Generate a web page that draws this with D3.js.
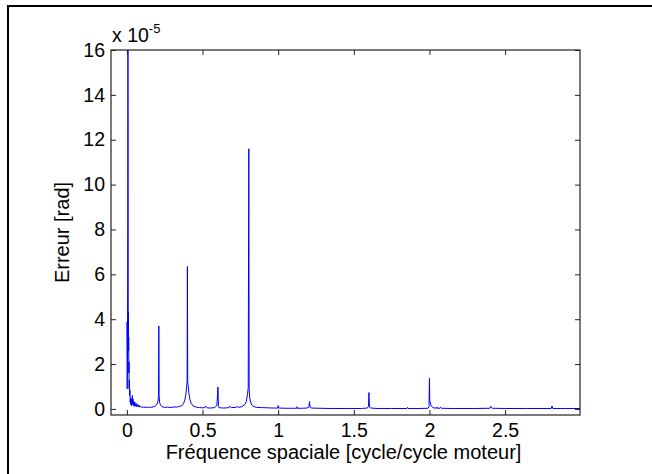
<!DOCTYPE html>
<html><head><meta charset="utf-8">
<script src="https://cdn.jsdelivr.net/npm/d3@7"></script>
<style>
html,body{margin:0;padding:0;background:#fff;}
svg{display:block;}
text{font-family:'Liberation Sans',Arial,Helvetica,sans-serif;fill:#000;}
</style></head>
<body>
<script>
// ---- data ----
const freq = [
 0, 0.002, 0.004, 0.006, 0.007, 0.008, 0.009, 0.010, 0.011, 0.012,
 0.013, 0.014, 0.015, 0.016, 0.018, 0.020, 0.022, 0.024, 0.026, 0.028,
 0.030, 0.032, 0.034, 0.036, 0.038, 0.040, 0.042, 0.045, 0.048, 0.052,
 0.056, 0.060, 0.065, 0.070, 0.075, 0.080, 0.085, 0.090, 0.10, 0.11,
 0.12, 0.135, 0.15, 0.165, 0.18, 0.192, 0.200, 0.206, 0.209, 0.211,
 0.213, 0.216, 0.222, 0.232, 0.25, 0.27, 0.29, 0.31, 0.33, 0.35,
 0.365, 0.375, 0.383, 0.390, 0.395, 0.398, 0.400, 0.402, 0.405, 0.41,
 0.416, 0.425, 0.44, 0.46, 0.48, 0.50, 0.515, 0.52, 0.53, 0.55,
 0.58, 0.595, 0.602, 0.605, 0.608, 0.615, 0.64, 0.66, 0.675, 0.68,
 0.69, 0.72, 0.73, 0.74, 0.76, 0.78, 0.79, 0.798, 0.802, 0.806,
 0.808, 0.812, 0.818, 0.826, 0.84, 0.86, 0.89, 0.93, 0.97, 0.998,
 1.0, 1.003, 1.05, 1.10, 1.123, 1.125, 1.128, 1.16, 1.19, 1.203,
 1.207, 1.211, 1.22, 1.27, 1.35, 1.45, 1.55, 1.59, 1.597, 1.600,
 1.603, 1.61, 1.66, 1.75, 1.851, 1.855, 1.859, 1.93, 1.99, 1.997,
 2.000, 2.002, 2.006, 2.01, 2.016, 2.022, 2.035, 2.048, 2.05, 2.052,
 2.068, 2.07, 2.075, 2.078, 2.15, 2.3, 2.4, 2.406, 2.409, 2.415,
 2.5, 2.65, 2.805, 2.81, 2.815, 2.9, 3.0];
const err = [
 3.87, 0.9, 2.2, 9, 17, 10, 3.4, 4.3, 2.6, 3.2,
 1.6, 2.1, 0.9, 1.3, 0.6, 0.85, 0.3, 0.5, 0.2, 0.45,
 0.15, 0.4, 0.2, 0.6, 0.25, 0.45, 0.15, 0.35, 0.12, 0.3,
 0.12, 0.25, 0.1, 0.22, 0.09, 0.17, 0.08, 0.12, 0.07, 0.08,
 0.07, 0.08, 0.07, 0.08, 0.1, 0.15, 0.22, 0.35, 0.6, 3.7,
 0.6, 0.3, 0.18, 0.1, 0.07, 0.08, 0.06, 0.09, 0.08, 0.12,
 0.15, 0.25, 0.4, 0.65, 1.0, 1.2, 6.35, 1.2, 1.05, 0.7,
 0.45, 0.25, 0.12, 0.08, 0.06, 0.05, 0.06, 0.13, 0.05, 0.04,
 0.06, 0.15, 0.98, 0.15, 0.07, 0.05, 0.04, 0.05, 0.06, 0.12,
 0.06, 0.07, 0.1, 0.07, 0.1, 0.2, 0.35, 0.7, 0.95, 11.6,
 0.9, 0.5, 0.3, 0.17, 0.1, 0.07, 0.06, 0.05, 0.04, 0.04,
 0.15, 0.04, 0.03, 0.03, 0.03, 0.1, 0.03, 0.03, 0.04, 0.08,
 0.33, 0.08, 0.04, 0.03, 0.02, 0.02, 0.02, 0.04, 0.12, 0.73,
 0.12, 0.04, 0.02, 0.02, 0.02, 0.07, 0.02, 0.02, 0.03, 0.1,
 1.36, 0.3, 0.3, 0.15, 0.12, 0.06, 0.04, 0.04, 0.08, 0.03,
 0.03, 0.07, 0.07, 0.03, 0.02, 0.02, 0.03, 0.12, 0.06, 0.03,
 0.02, 0.02, 0.02, 0.13, 0.02, 0.02, 0.02];
const xTicks = [0, 0.5, 1, 1.5, 2, 2.5];
const xTickLabels = ["0", "0.5", "1", "1.5", "2", "2.5"];
const yTicks = [0, 2, 4, 6, 8, 10, 12, 14, 16];
const yTickLabels = ["0", "2", "4", "6", "8", "10", "12", "14", "16"];
const xLabel = "Fréquence spaciale [cycle/cycle moteur]";
const yLabel = "Erreur [rad]";

// ---- layout ----
const W = 652, H = 474;
const L = 111, R = 580, T = 50, B = 415;
const svg = d3.select("body").append("svg").attr("width", W).attr("height", H);

// partial outer frame (top & left visible)
svg.append("path").attr("d", `M8,${H} V6 H${W}`)
  .attr("fill", "none").attr("stroke", "#000").attr("stroke-width", 2);

const x = d3.scaleLinear().domain([-0.105, 2.995]).range([L, R]);
const y = d3.scaleLinear().domain([-0.27, 16]).range([B, T]);

svg.append("defs").append("clipPath").attr("id", "clip")
  .append("rect").attr("x", L).attr("y", T).attr("width", R - L).attr("height", B - T);

const pts = freq.map((f, i) => [f, err[i]]);
svg.append("path").datum(pts)
  .attr("clip-path", "url(#clip)")
  .attr("fill", "none").attr("stroke", "#0000ff").attr("stroke-width", 1)
  .attr("d", d3.line().x(d => x(d[0])).y(d => y(d[1])));

const fs = 19.5;
const fmtX = (d) => xTickLabels[xTicks.indexOf(d)];
const fmtY = (d) => yTickLabels[yTicks.indexOf(d)];

const gB = svg.append("g").attr("transform", `translate(0,${B})`)
  .call(d3.axisBottom(x).tickValues(xTicks).tickFormat(fmtX).tickSize(-5).tickPadding(8));
const gT = svg.append("g").attr("transform", `translate(0,${T})`)
  .call(d3.axisTop(x).tickValues(xTicks).tickFormat("").tickSize(-5));
const gLft = svg.append("g").attr("transform", `translate(${L},0)`)
  .call(d3.axisLeft(y).tickValues(yTicks).tickFormat(fmtY).tickSize(-5).tickPadding(6));
const gRt = svg.append("g").attr("transform", `translate(${R},0)`)
  .call(d3.axisRight(y).tickValues(yTicks).tickFormat("").tickSize(-5));

[gB, gT, gLft, gRt].forEach(g => {
  g.select(".domain").remove();
  g.selectAll("line").attr("stroke", "#222").attr("stroke-width", 1);
  g.selectAll("text").attr("font-size", fs).attr("font-family", "'Liberation Sans',Arial,sans-serif").attr("fill", "#000");
});
gLft.selectAll(".tick text").attr("x", -6);

// axes box
svg.append("rect").attr("x", L).attr("y", T).attr("width", R - L).attr("height", B - T)
  .attr("fill", "none").attr("stroke", "#222").attr("stroke-width", 1.2);

// labels
svg.append("text").attr("x", (L + R) / 2 - 2).attr("y", 459)
  .attr("text-anchor", "middle").attr("font-size", 20).text(xLabel);
svg.append("text").attr("transform", `translate(69,${(T + B) / 2}) rotate(-90)`)
  .attr("text-anchor", "middle").attr("font-size", 20).text(yLabel);

// exponent
const ex = svg.append("text").attr("x", 112).attr("y", 42).attr("font-size", 19.5);
ex.append("tspan").text("x 10");
ex.append("tspan").attr("font-size", 13).attr("dy", -9).text("-5");
</script>
</body></html>
